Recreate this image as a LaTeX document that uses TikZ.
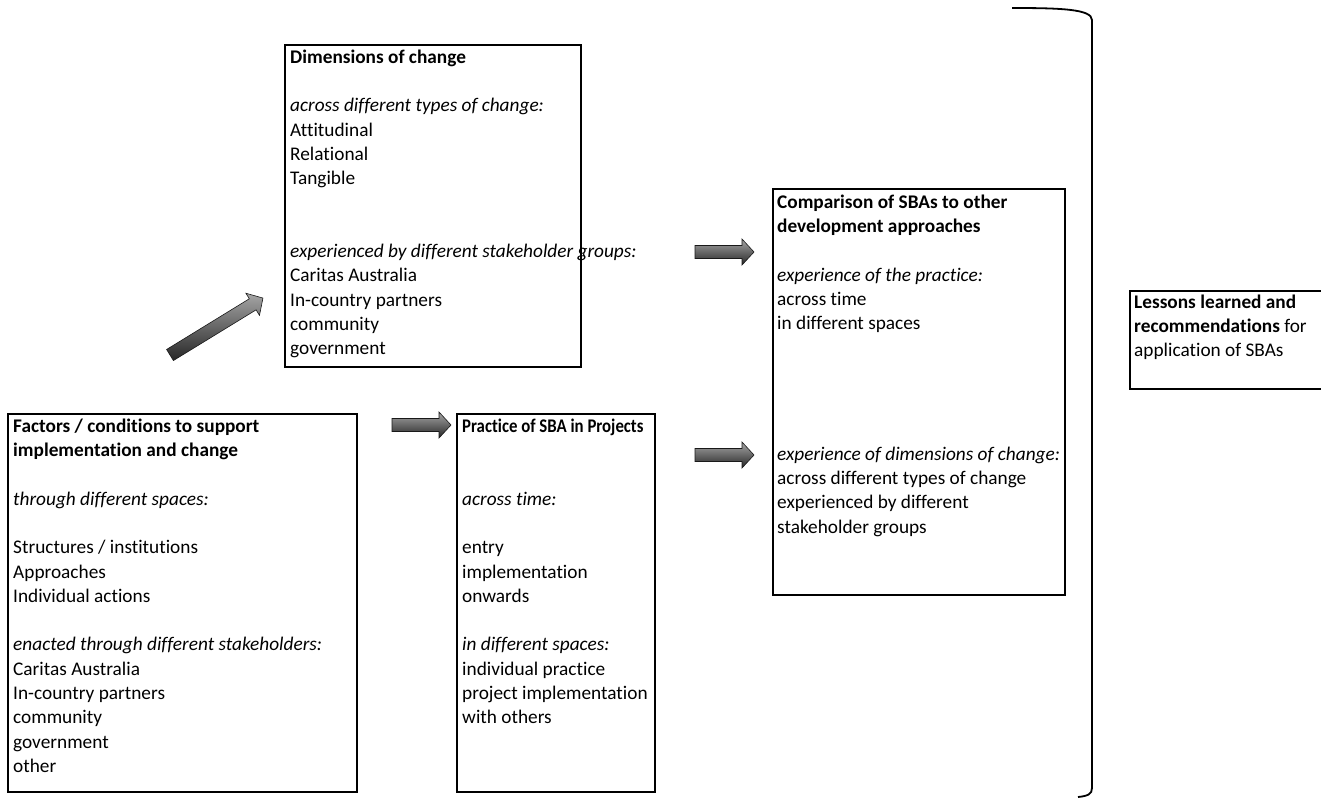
\documentclass[tikz,border=0pt]{standalone}
\usepackage{fontspec}
\usepackage{graphicx}
\setmainfont[Ligatures={NoCommon}]{Carlito}
\begin{document}
\begin{tikzpicture}[x=1pt,y=-1pt,
  box/.style={draw=black,line width=1.8pt,anchor=north west,inner sep=0pt,outer sep=0pt},
  txt/.style={anchor=north west,inner sep=0pt,align=left,font=\fontsize{19.3}{24.3}\selectfont},
  blockarrow/.pic={\shade[top color=black!35,bottom color=black!85,draw=black!90,line width=0.6pt]
     (0,-6.5)--(#1-12,-6.5)--(#1-12,-13)--(#1,0)--(#1-12,13)--(#1-12,6.5)--(0,6.5)--cycle;}
]
\useasboundingbox (0,0) rectangle (1321,798);
% boxes
\node[box,minimum width=296,minimum height=322] (dimbox) at (285,45) {};
\node[box,minimum width=349,minimum height=378] (facbox) at (8,414) {};
\node[box,minimum width=198,minimum height=378] (pracbox) at (457,414) {};
\node[box,minimum width=292,minimum height=406] (compbox) at (773,189) {};
\node[box,minimum width=200,minimum height=98] (lessbox) at (1130,291) {};
% texts
\node[txt] (dimtxt) at (290,46) {\strut\textbf{Dimensions of change}\\ \strut\\
\textit{across different types of change:}\\ Attitudinal\\ Relational\\ Tangible\\ \strut\\ \strut\\
\textit{experienced by different stakeholder groups:}\\ Caritas Australia\\ In-country partners\\ community\\ government};
\node[txt] (factxt) at (13,415) {\strut\textbf{Factors / conditions to support}\\ \textbf{implementation and change}\\ \strut\\
\textit{through different spaces:}\\ \strut\\ Structures / institutions\\ Approaches\\ Individual actions\\ \strut\\
\textit{enacted through different stakeholders:}\\ Caritas Australia\\ In-country partners\\ community\\ government\\ other};
\node[txt] (practxt) at (462,415) {\strut\scalebox{0.87}[1]{\textbf{Practice of SBA in Projects}}\\ \strut\\ \strut\\
\textit{across time:}\\ \strut\\ entry\\ implementation\\ onwards\\ \strut\\
\textit{in different spaces:}\\ individual practice\\ project implementation\\ with others};
\node[txt] (comptxt) at (777,191) {\strut\textbf{Comparison of SBAs to other}\\ \textbf{development approaches}\\ \strut\\
\textit{experience of the practice:}\\ across time\\ in different spaces};
\node[txt] (comptxtb) at (777,443) {\strut\textit{experience of dimensions of change:}\\ across different types of change\\ experienced by different\\ stakeholder groups};
\node[txt] (lesstxt) at (1134,291) {\strut\textbf{Lessons learned and}\\ \textbf{recommendations} for\\ application of SBAs};
% block arrows
\coordinate (a1) at (170,355);
\coordinate (a2) at (392,425);
\coordinate (a3) at (695,252);
\coordinate (a4) at (695,455);
\pic[rotate=31.5] at (a1) {blockarrow=109};
\pic at (a2) {blockarrow=59};
\pic at (a3) {blockarrow=59};
\pic at (a4) {blockarrow=59};
% bracket
\coordinate (bt) at (1012,8);
\coordinate (bb) at (1078,797);
\draw[line width=1.8pt] (bt) .. controls (1060,8) and (1092,9) .. (1092,20) -- (1092,788) .. controls (1092,794) and (1088,796) .. (bb);
\end{tikzpicture}
\end{document}
